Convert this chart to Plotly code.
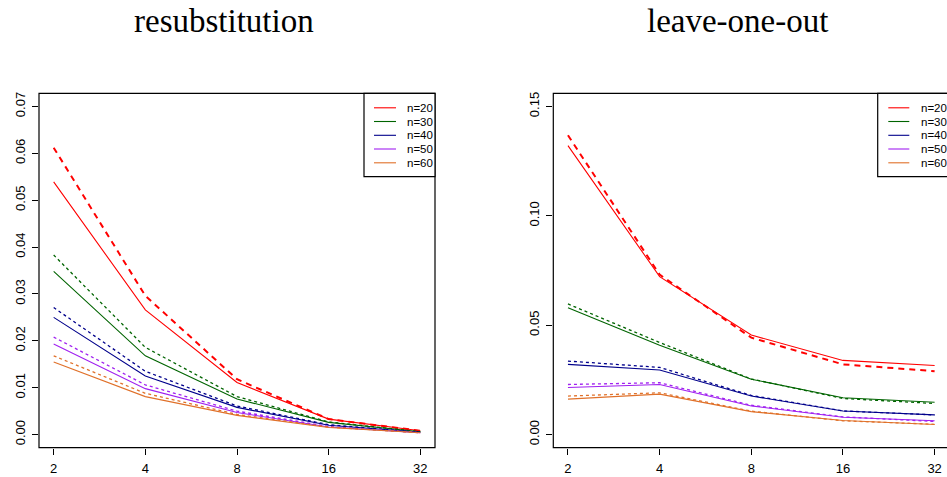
import plotly.graph_objects as go

# sample sizes and dimensions (x axis, log2 spaced)
sizes = ["n=20", "n=30", "n=40", "n=50", "n=60"]
dims = [2, 4, 8, 16, 32]
colors = ["#FF0000", "#006400", "#00008B", "#A020F0", "#E0712A"]

# resubstitution: solid and dashed curves, one row per sample size
resub_solid = [
    [0.0539, 0.0266, 0.0111, 0.0033, 0.0008],
    [0.0348, 0.0168, 0.0076, 0.0026, 0.0006],
    [0.0250, 0.0125, 0.0058, 0.0020, 0.0005],
    [0.0193, 0.0098, 0.0047, 0.0016, 0.0004],
    [0.0155, 0.0081, 0.0041, 0.0015, 0.0004],
]
resub_dashed = [
    [0.0612, 0.0296, 0.0118, 0.0033, 0.0008],
    [0.0383, 0.0186, 0.0081, 0.0027, 0.0006],
    [0.0271, 0.0135, 0.0061, 0.0021, 0.0005],
    [0.0208, 0.0106, 0.0050, 0.0017, 0.0004],
    [0.0168, 0.0088, 0.0043, 0.0016, 0.0004],
]

# leave-one-out
loo_solid = [
    [0.1321, 0.0722, 0.0455, 0.0339, 0.0316],
    [0.0580, 0.0408, 0.0253, 0.0168, 0.0148],
    [0.0321, 0.0295, 0.0176, 0.0108, 0.0090],
    [0.0215, 0.0229, 0.0131, 0.0079, 0.0063],
    [0.0162, 0.0185, 0.0105, 0.0064, 0.0046],
]
loo_dashed = [
    [0.1368, 0.0731, 0.0443, 0.0321, 0.0290],
    [0.0597, 0.0421, 0.0254, 0.0165, 0.0142],
    [0.0336, 0.0307, 0.0179, 0.0108, 0.0090],
    [0.0229, 0.0237, 0.0134, 0.0081, 0.0060],
    [0.0176, 0.0191, 0.0107, 0.0063, 0.0047],
]

resub_yticks = [0.0, 0.01, 0.02, 0.03, 0.04, 0.05, 0.06, 0.07]
resub_ylabels = ["0.00", "0.01", "0.02", "0.03", "0.04", "0.05", "0.06", "0.07"]
loo_yticks = [0.0, 0.05, 0.10, 0.15]
loo_ylabels = ["0.00", "0.05", "0.10", "0.15"]
xlabels = ["2", "4", "8", "16", "32"]
titles = ["resubstitution", "leave-one-out"]

W, H = 947, 477
fig = go.Figure()


def add_panel(solid, dashed, xa, ya):
    for i, col in enumerate(colors):
        fig.add_trace(go.Scatter(
            x=dims, y=solid[i], mode="lines", xaxis=xa, yaxis=ya,
            line=dict(color=col, width=1.1), showlegend=False, hoverinfo="skip"))
        if i == 0:
            dline = dict(color=col, width=2, dash="6px,5px")
        else:
            dline = dict(color=col, width=1.3, dash="3px,3px")
        fig.add_trace(go.Scatter(
            x=dims, y=dashed[i], mode="lines", xaxis=xa, yaxis=ya,
            line=dline, showlegend=False, hoverinfo="skip"))


add_panel(resub_solid, resub_dashed, "x", "y")
add_panel(loo_solid, loo_dashed, "x2", "y2")

tick_font = dict(family="Liberation Sans, Arial, sans-serif", size=13, color="#000")
ydom = [(H - 447.7) / H, (H - 93.3) / H]
xcommon = dict(type="log", tickvals=dims, ticktext=xlabels, ticks="outside",
               ticklen=6, tickwidth=1, tickcolor="#000", showgrid=False,
               zeroline=False, showline=False, tickfont=tick_font,
               ticklabelstandoff=3)
ycommon = dict(ticks="outside", ticklen=6, tickwidth=1, tickcolor="#000",
               showgrid=False, zeroline=False, showline=False, tickangle=-90,
               tickfont=tick_font, ticklabelstandoff=2)

fig.update_layout(
    width=W, height=H, margin=dict(l=0, r=0, t=0, b=0),
    paper_bgcolor="white", plot_bgcolor="white", showlegend=False,
    xaxis=dict(domain=[39 / W, 435 / W], range=[0.25287, 1.55331], anchor="y", **xcommon),
    yaxis=dict(domain=ydom, range=[-0.0028, 0.0728], anchor="x",
               tickvals=resub_yticks, ticktext=resub_ylabels, **ycommon),
    xaxis2=dict(domain=[553.3 / W, 1.0], range=[0.25287, 1.5458], anchor="y2", **xcommon),
    yaxis2=dict(domain=ydom, range=[-0.006, 0.156], anchor="x2",
                tickvals=loo_yticks, ticktext=loo_ylabels, **ycommon),
)

# frames around both plotting regions
fig.add_shape(type="rect", xref="x domain", yref="y domain", x0=0, x1=1, y0=0, y1=1,
              line=dict(color="#000", width=1.2), layer="above")
fig.add_shape(type="rect", xref="x2 domain", yref="y2 domain", x0=0, x1=1.03, y0=0, y1=1,
              line=dict(color="#000", width=1.2), layer="above")

# panel titles
for cx, txt in zip([224, 737], titles):
    fig.add_annotation(x=cx / W, y=1 - 21 / H, xref="paper", yref="paper",
                       text=txt, showarrow=False, xanchor="center", yanchor="middle",
                       font=dict(family="Liberation Serif, Times New Roman, serif",
                                 size=33, color="#000"))

# legends drawn in pixel positions
leg_font = dict(family="Liberation Sans, Arial, sans-serif", size=11.5, color="#000")
row_y = [107.8, 121.5, 135.3, 149.0, 162.8]
for box_left, line_x0, line_x1, text_x in [(364, 374, 396, 405), (877.7, 888.3, 909.3, 919)]:
    fig.add_shape(type="rect", xref="paper", yref="paper",
                  x0=box_left / W, x1=(box_left + 71) / W,
                  y0=1 - 176.7 / H, y1=1 - 93.3 / H,
                  line=dict(color="#000", width=1.2), fillcolor="white", layer="above")
    for col, lab, ry in zip(colors, sizes, row_y):
        fig.add_shape(type="line", xref="paper", yref="paper",
                      x0=line_x0 / W, x1=line_x1 / W, y0=1 - ry / H, y1=1 - ry / H,
                      line=dict(color=col, width=1.1), layer="above")
        fig.add_annotation(x=text_x / W, y=1 - ry / H, xref="paper", yref="paper",
                           text=lab, showarrow=False, xanchor="left", yanchor="middle",
                           font=leg_font)

fig.write_html("out.html")
